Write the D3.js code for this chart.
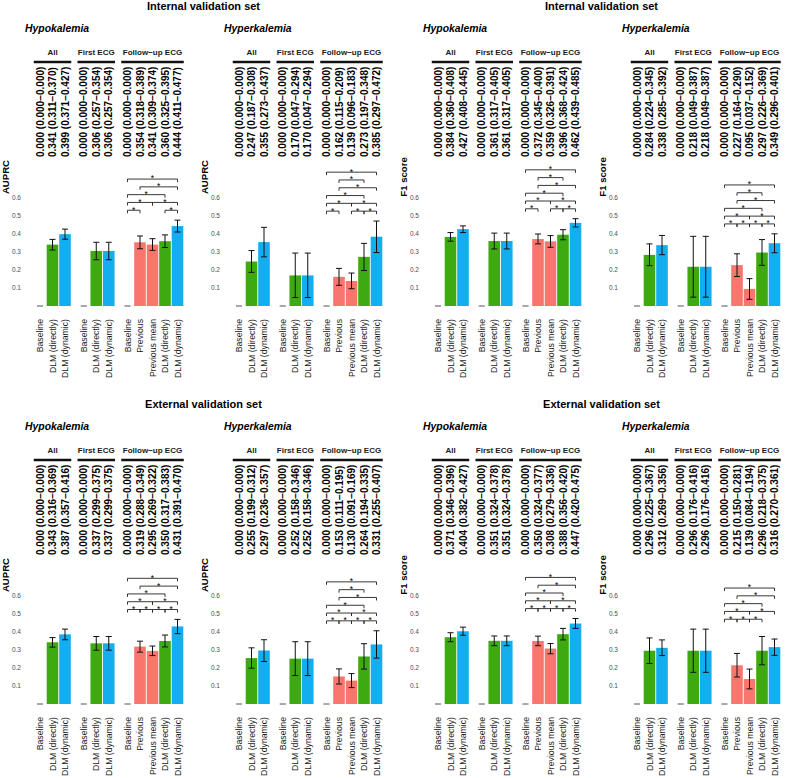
<!DOCTYPE html>
<html><head><meta charset="utf-8">
<script src="https://cdn.jsdelivr.net/npm/d3@7"></script>
<style>
body{margin:0;background:#fff}
svg{display:block;font-family:"Liberation Sans",Arial,sans-serif}
.stars{opacity:0.995}
</style>
</head><body>
<svg id="chart" width="788" height="778"></svg>
<script>
// ---------- DATA ----------
const setTitles = ["Internal validation set", "External validation set"];
const outcomes = ["Hypokalemia", "Hyperkalemia"];
const metrics = ["AUPRC", "F1 score"];
const groups = ["All", "First ECG", "Follow\u2212up ECG"];
const groupMethods = [
  ["Baseline", "DLM (directly)", "DLM (dynamic)"],
  ["Baseline", "DLM (directly)", "DLM (dynamic)"],
  ["Baseline", "Previous", "Previous mean", "DLM (directly)", "DLM (dynamic)"]
];
const yTicks = [0.1, 0.2, 0.3, 0.4, 0.5, 0.6];

// [estimate, lower, upper] — All(3), First ECG(3), Follow-up ECG(5)
const intHypoAUPRC = [[0,0,0],[0.341,0.311,0.370],[0.399,0.371,0.427],
  [0,0,0],[0.306,0.257,0.354],[0.306,0.257,0.354],
  [0,0,0],[0.354,0.318,0.389],[0.341,0.309,0.374],[0.360,0.325,0.395],[0.444,0.411,0.477]];
const intHyperAUPRC = [[0,0,0],[0.247,0.187,0.308],[0.355,0.273,0.437],
  [0,0,0],[0.170,0.047,0.294],[0.170,0.047,0.294],
  [0,0,0],[0.162,0.115,0.209],[0.139,0.096,0.183],[0.273,0.197,0.348],[0.385,0.297,0.472]];
const intHypoF1 = [[0,0,0],[0.384,0.360,0.408],[0.427,0.408,0.445],
  [0,0,0],[0.361,0.317,0.405],[0.361,0.317,0.405],
  [0,0,0],[0.372,0.345,0.400],[0.359,0.326,0.391],[0.396,0.368,0.424],[0.462,0.439,0.485]];
const intHyperF1 = [[0,0,0],[0.284,0.224,0.345],[0.338,0.285,0.392],
  [0,0,0],[0.218,0.049,0.387],[0.218,0.049,0.387],
  [0,0,0],[0.227,0.164,0.290],[0.095,0.037,0.152],[0.297,0.226,0.369],[0.349,0.296,0.401]];
const extHypoAUPRC = [[0,0,0],[0.343,0.316,0.369],[0.387,0.357,0.416],
  [0,0,0],[0.337,0.299,0.375],[0.337,0.299,0.375],
  [0,0,0],[0.319,0.288,0.349],[0.295,0.269,0.322],[0.350,0.317,0.383],[0.431,0.391,0.470]];
const extHyperAUPRC = [[0,0,0],[0.255,0.199,0.312],[0.297,0.236,0.357],
  [0,0,0],[0.252,0.158,0.346],[0.252,0.158,0.346],
  [0,0,0],[0.153,0.111,0.195],[0.130,0.091,0.169],[0.264,0.194,0.335],[0.331,0.255,0.407]];
const extHypoF1 = [[0,0,0],[0.371,0.346,0.396],[0.404,0.382,0.427],
  [0,0,0],[0.351,0.324,0.378],[0.351,0.324,0.378],
  [0,0,0],[0.350,0.324,0.377],[0.308,0.279,0.336],[0.388,0.356,0.420],[0.447,0.420,0.475]];
const extHyperF1 = [[0,0,0],[0.296,0.225,0.367],[0.312,0.269,0.356],
  [0,0,0],[0.296,0.176,0.416],[0.296,0.176,0.416],
  [0,0,0],[0.215,0.150,0.281],[0.139,0.084,0.194],[0.296,0.218,0.375],[0.316,0.270,0.361]];

// significance brackets within Follow-up ECG: [from, to, level]
// 0 Baseline, 1 Previous, 2 Previous mean, 3 DLM (directly), 4 DLM (dynamic)
const intHypoAUPRCSig = [[0,1,0],[3,4,0],[0,2,1],[2,4,1],[0,3,2],[1,4,3],[0,4,4]];
const intHyperAUPRCSig = [[0,1,0],[2,3,0],[3,4,0],[0,2,1],[2,4,1],[0,3,2],[1,4,3],[1,3,4],[0,4,5]];
const intHypoF1Sig = [[0,1,0],[2,3,0],[3,4,0],[0,2,1],[2,4,1],[0,3,2],[1,4,3],[1,3,4],[0,4,5]];
const intHyperF1Sig = [[0,1,0],[1,2,0],[2,3,0],[3,4,0],[0,2,1],[2,4,1],[0,3,2],[1,4,3],[1,3,4],[0,4,5]];
const extHypoAUPRCSig = [[0,1,0],[1,2,0],[2,3,0],[3,4,0],[0,2,1],[2,4,1],[0,3,2],[1,4,3],[0,4,4]];
const extHyperAUPRCSig = [[0,1,0],[1,2,0],[2,3,0],[3,4,0],[0,2,1],[2,4,1],[0,3,2],[1,4,3],[1,3,4],[0,4,5]];
const extHypoF1Sig = [[0,1,0],[1,2,0],[2,3,0],[3,4,0],[0,2,1],[2,4,1],[0,3,2],[1,4,3],[0,4,4]];
const extHyperF1Sig = [[0,1,0],[1,2,0],[2,3,0],[0,2,1],[2,4,1],[0,3,2],[1,4,3],[0,4,4]];

const methodColor = {
  "Baseline": "#999999",
  "Previous": "#F8766D",
  "Previous mean": "#F8766D",
  "DLM (directly)": "#3DAA12",
  "DLM (dynamic)": "#12AEF0"
};

// ---------- LAYOUT ----------
const rows = [
  {title: setTitles[0], y0: 0, panels: [
    {outcome: outcomes[0], metric: metrics[0], data: intHypoAUPRC, sig: intHypoAUPRCSig},
    {outcome: outcomes[1], metric: metrics[0], data: intHyperAUPRC, sig: intHyperAUPRCSig},
    {outcome: outcomes[0], metric: metrics[1], data: intHypoF1, sig: intHypoF1Sig},
    {outcome: outcomes[1], metric: metrics[1], data: intHyperF1, sig: intHyperF1Sig}]},
  {title: setTitles[1], y0: 398, panels: [
    {outcome: outcomes[0], metric: metrics[0], data: extHypoAUPRC, sig: extHypoAUPRCSig},
    {outcome: outcomes[1], metric: metrics[0], data: extHyperAUPRC, sig: extHyperAUPRCSig},
    {outcome: outcomes[0], metric: metrics[1], data: extHypoF1, sig: extHypoF1Sig},
    {outcome: outcomes[1], metric: metrics[1], data: extHyperF1, sig: extHyperF1Sig}]}
];
const panelX = [0, 199, 398, 597];
const fmt = d3.format(".3f");

const svg = d3.select("#chart");

const slots = [];
groupMethods.forEach((ms, g) => ms.forEach((m, j) => slots.push({g, j, m})));
slots.forEach((s, i) => { s.pos = i + 0.5 * s.g; });

const x = d3.scaleLinear().domain([0, 12]).range([40, 190]);
const barW = 11.6;

rows.forEach(row => {
  const gRow = svg.append("g").attr("transform", `translate(0,${row.y0})`);
  [0, 2].forEach(p => {
    gRow.append("text")
      .attr("x", panelX[p] + 203.5).attr("y", 9.5)
      .attr("text-anchor", "middle")
      .attr("font-size", 11).attr("font-weight", "bold").attr("fill", "#000")
      .text(row.title);
  });

  const y = d3.scaleLinear().domain([0, 1]).range([306, 126]);

  row.panels.forEach((panel, pi) => {
    const g = gRow.append("g").attr("transform", `translate(${panelX[pi]},0)`);
    const items = panel.data.map((d, i) => ({...slots[i], est: d[0], lo: d[1], hi: d[2]}));

    g.append("text").attr("x", 25).attr("y", 32)
      .attr("font-size", 10.4).attr("font-weight", "bold").attr("font-style", "italic")
      .text(panel.outcome);

    groups.forEach((name, gi) => {
      const its = items.filter(d => d.g === gi);
      const x0 = x(its[0].pos) - 6.25, x1 = x(its[its.length - 1].pos) + 6.25;
      g.append("text").attr("x", (x0 + x1) / 2).attr("y", 54.5)
        .attr("text-anchor", "middle").attr("font-size", 8).attr("font-weight", "bold")
        .attr("fill", "#1a1a1a").text(name);
      g.append("line").attr("x1", x0).attr("x2", x1).attr("y1", 62).attr("y2", 62)
        .attr("stroke", "#111").attr("stroke-width", 2.4);
    });

    g.selectAll("text.val").data(items).join("text").attr("class", "val")
      .attr("transform", d => `translate(${x(d.pos)},157) rotate(-90)`)
      .attr("dy", "0.36em").attr("font-size", 10).attr("font-weight", "bold")
      .attr("fill", "#000")
      .text(d => `${fmt(d.est)} (${fmt(d.lo)}\u2212${fmt(d.hi)})`);

    g.append("text")
      .attr("transform", `translate(8.5,177) rotate(-90)`)
      .attr("text-anchor", "middle").attr("font-size", 9.6).attr("font-weight", "bold")
      .text(panel.metric);

    g.selectAll("text.yt").data(yTicks).join("text").attr("class", "yt")
      .attr("x", 21).attr("y", d => y(d)).attr("dy", "0.35em")
      .attr("text-anchor", "end").attr("font-size", 6.5).attr("fill", "#4d4d4d")
      .text(d => d3.format(".1f")(d));

    g.selectAll("rect.bar").data(items.filter(d => d.est > 0)).join("rect").attr("class", "bar")
      .attr("x", d => x(d.pos) - barW / 2).attr("width", barW)
      .attr("y", d => y(d.est)).attr("height", d => y(0) - y(d.est))
      .attr("fill", d => methodColor[d.m]);

    const eb = g.selectAll("g.eb").data(items).join("g").attr("class", "eb")
      .attr("stroke", d => d.est > 0 ? "#111" : "#8c8c8c").attr("stroke-width", 1);
    eb.append("line").attr("x1", d => x(d.pos)).attr("x2", d => x(d.pos))
      .attr("y1", d => y(d.lo)).attr("y2", d => y(d.hi));
    eb.append("line").attr("x1", d => x(d.pos) - 3).attr("x2", d => x(d.pos) + 3)
      .attr("y1", d => y(d.lo)).attr("y2", d => y(d.lo));
    eb.append("line").attr("x1", d => x(d.pos) - 3).attr("x2", d => x(d.pos) + 3)
      .attr("y1", d => y(d.hi)).attr("y2", d => y(d.hi));

    g.selectAll("text.xt").data(items).join("text").attr("class", "xt")
      .attr("transform", d => `translate(${x(d.pos)},319) rotate(-90)`)
      .attr("dy", "0.35em").attr("text-anchor", "end")
      .attr("font-size", 8.7).attr("fill", "#1a1a1a")
      .text(d => d.m);

    const follow = items.filter(d => d.g === 2);
    const base = d3.max(items, d => d.hi) + 0.055;
    const step = 0.0433;
    const sg = g.append("g").attr("class", "stars");
    panel.sig.forEach(([a, b, lvl]) => {
      const xa = x(follow[a].pos), xb = x(follow[b].pos);
      const yy = y(base + lvl * step);
      sg.append("path")
        .attr("d", `M${xa},${yy + 3}V${yy}H${xb}V${yy + 3}`)
        .attr("fill", "none").attr("stroke", "#222").attr("stroke-width", 0.9);
      sg.append("text").attr("x", (xa + xb) / 2).attr("y", yy + 2.4)
        .attr("text-anchor", "middle").attr("font-size", 8.5).attr("fill", "#000")
        .text("*");
    });
  });
});
</script>
</body></html>
